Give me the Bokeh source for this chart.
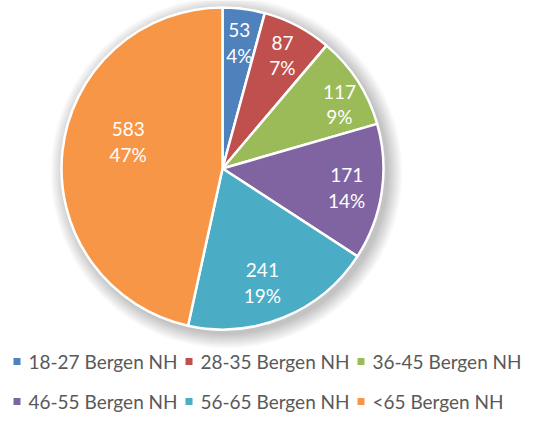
import math
from bokeh.plotting import figure
from bokeh.models import Range1d, ColumnDataSource
from bokeh.core.properties import value
from bokeh.embed import file_html
from bokeh.resources import INLINE

# ---- data ----
categories = ["18-27 Bergen NH", "28-35 Bergen NH", "36-45 Bergen NH",
              "46-55 Bergen NH", "56-65 Bergen NH", "<65 Bergen NH"]
counts = [53, 87, 117, 171, 241, 583]
colors = ["#4F81BD", "#C0504D", "#9BBB59", "#8064A2", "#4BACC6", "#F79646"]

# label placement style (fraction of radius, angle nudge in degrees)
label_rf = [0.79, 0.80, 0.83, 0.78, 0.75, 0.61]
label_nudge = [0, 0, -4, 0, -3, -10]

W, H = 534, 414
p = figure(width=W, height=H, output_backend="svg", toolbar_location=None,
           x_range=Range1d(0, W), y_range=Range1d(0, H), min_border=0,
           outline_line_color=None)
p.axis.visible = False
p.grid.visible = False
p.background_fill_color = "white"
p.border_fill_color = "white"

cx, cy, R = 222, 246, 161
total = sum(counts)

# soft shadow
for k in range(1, 16):
    p.circle(x=cx + 4, y=cy - 4, radius=R + k * 1.0, fill_color="#000000",
             fill_alpha=0.014, line_color=None)

starts, ends, lx, ly, vals, pcts = [], [], [], [], [], []
cum = 0
for i, c in enumerate(counts):
    a0 = math.pi / 2 - 2 * math.pi * cum / total
    a1 = math.pi / 2 - 2 * math.pi * (cum + c) / total
    starts.append(a0)
    ends.append(a1)
    mid = (a0 + a1) / 2 + math.radians(label_nudge[i])
    lx.append(cx + R * label_rf[i] * math.cos(mid))
    ly.append(cy + R * label_rf[i] * math.sin(mid))
    vals.append(str(c))
    pcts.append(f"{round(100 * c / total)}%")
    cum += c

src = ColumnDataSource(dict(start=starts, end=ends, color=colors, lx=lx, ly=ly,
                            vals=vals, pcts=pcts))
p.wedge(x=cx, y=cy, radius=R, start_angle="start", end_angle="end",
        direction="clock", fill_color="color", line_color="white",
        line_width=2.5, source=src)

p.text(x="lx", y="ly", text="vals", source=src, text_color="white",
       text_font=value("Lato"), text_font_size="19px", text_align="center",
       text_baseline="middle", y_offset=-12)
p.text(x="lx", y="ly", text="pcts", source=src, text_color="white",
       text_font=value("Lato"), text_font_size="19px", text_align="center",
       text_baseline="middle", y_offset=13)

# legend
leg_x, leg_y, tx = [], [], []
for i in range(len(categories)):
    col, row = i % 3, i // 3
    leg_x.append(16.5 + col * 172)
    leg_y.append(53 - row * 40)
    tx.append(28 + col * 172)
lsrc = ColumnDataSource(dict(x=leg_x, y=leg_y, tx=tx, label=categories, color=colors))
p.scatter(x="x", y="y", marker="square", size=7, fill_color="color",
          line_color=None, source=lsrc)
p.text(x="tx", y="y", text="label", source=lsrc, text_color="#595959",
       text_font=value("Lato"), text_font_size="19px", text_align="left",
       text_baseline="middle")

open("out.html", "w").write(file_html(p, INLINE))
